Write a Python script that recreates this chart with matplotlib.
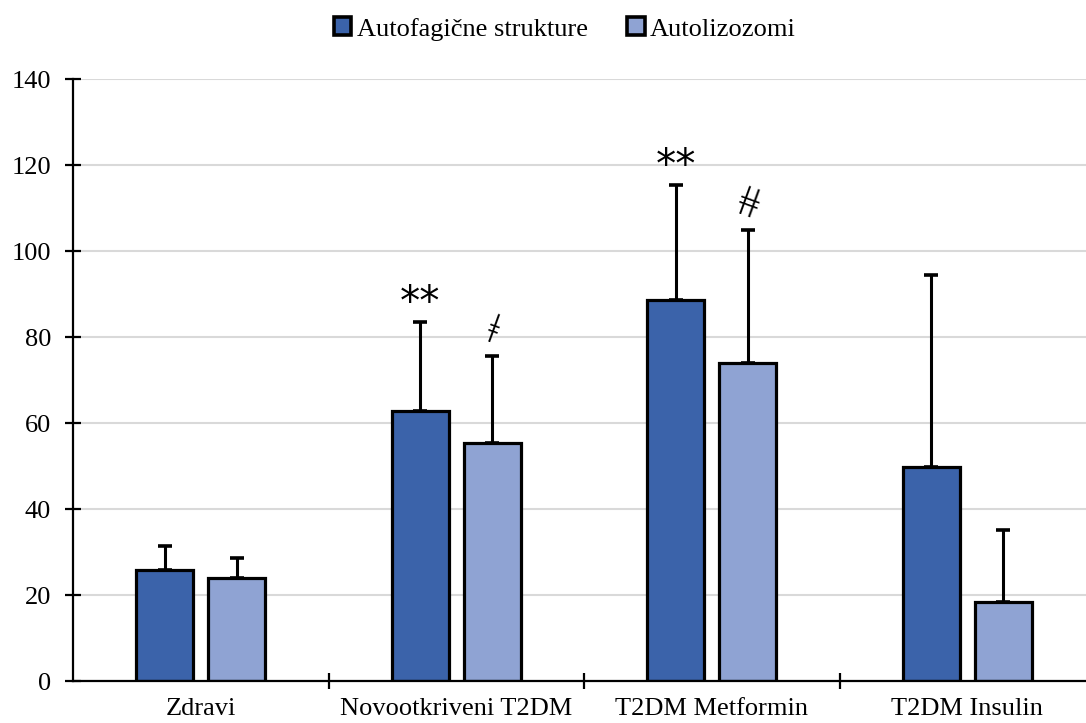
import matplotlib
matplotlib.use("Agg")
import matplotlib.pyplot as plt
import numpy as np

categories = ["Zdravi", "Novootkriveni T2DM", "T2DM Metformin", "T2DM Insulin"]
series_names = ["Autofagične strukture", "Autolizozomi"]
autofag = [25.8, 62.7, 88.6, 49.8]
autofag_err = [5.5, 20.8, 26.7, 44.6]
autoliz = [24.0, 55.4, 74.0, 18.3]
autoliz_err = [4.6, 20.1, 31.0, 16.8]
autofag_marks = ["", "**", "**", ""]
autoliz_marks = ["", "ǂ", "ǂǂ", ""]
yticks = [0, 20, 40, 60, 80, 100, 120, 140]

colors = ["#3B63AA", "#8FA3D3"]

plt.rcParams['font.family'] = ['Liberation Serif', 'DejaVu Serif']
plt.rcParams['font.size'] = 19

fig = plt.figure(figsize=(10.86, 7.23), dpi=100)
ax = fig.add_axes([73/1086, 1-681/723, (1095-73)/1086, (681-79)/723])

x = np.arange(len(categories))
w = 0.223
off = 0.141

for vals, errs, col, name, sgn in [(autofag, autofag_err, colors[0], series_names[0], -1),
                                     (autoliz, autoliz_err, colors[1], series_names[1], 1)]:
    xs = x + sgn * off
    ax.bar(xs, vals, width=w, color=col, edgecolor='black', linewidth=2.3, label=name, zorder=3)
    ax.errorbar(xs, vals, yerr=[np.zeros(len(vals)), errs], fmt='none', ecolor='black',
                elinewidth=2.2, capsize=4.7, capthick=2.6, zorder=2)

for i in range(len(categories)):
    if autofag_marks[i]:
        ax.text(x[i] - off, autofag[i] + autofag_err[i] + 4.2, autofag_marks[i], ha='center', va='center',
                fontsize=29, fontfamily=['DejaVu Sans'], zorder=5)
    if autoliz_marks[i]:
        ax.text(x[i] + off, autoliz[i] + autoliz_err[i] + 5.6, autoliz_marks[i], ha='center', va='center',
                fontsize=30, fontfamily=['Liberation Serif'], rotation=-20, zorder=5)

ax.set_xlim(-0.5, 3.5)
ax.set_ylim(0, 140)
ax.set_yticks(yticks)
ax.set_xticks([0.5, 1.5, 2.5])
ax.set_xticklabels([])
ax.set_xticks(x, minor=True)
ax.set_xticklabels(categories, minor=True)
ax.tick_params(axis='x', which='minor', length=0, pad=12.5)
ax.tick_params(axis='x', which='major', direction='inout', length=11.5, width=1.6)
ax.tick_params(axis='y', direction='inout', length=11.5, width=1.6, pad=10)
ax.grid(axis='y', color='#D9D9D9', linewidth=1.5, zorder=0)
ax.set_axisbelow(True)
for s in ['top', 'right']:
    ax.spines[s].set_visible(False)
for s in ['left', 'bottom']:
    ax.spines[s].set_linewidth(1.6)
    ax.spines[s].set_zorder(4)

leg = fig.legend(loc='center', bbox_to_anchor=(565/1086, 1-29/723), ncol=2, frameon=False,
                 handlelength=0.65, handleheight=0.65, handletextpad=0.2, columnspacing=1.5, fontsize=19)
for h in leg.legend_handles:
    h.set_linewidth(2.6)

fig.savefig("out.png", dpi=100)
